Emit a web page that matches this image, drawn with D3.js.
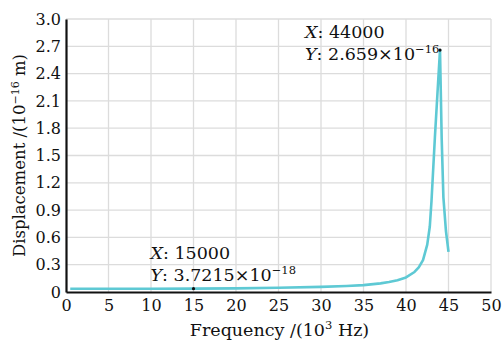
<!DOCTYPE html>
<html>
<head>
<meta charset="utf-8">
<script src="https://cdn.jsdelivr.net/npm/d3@7"></script>
<style>
  body { margin: 0; background: #fff; }
  text { font-family: "DejaVu Serif", "Liberation Serif", serif; fill: #111; }
</style>
</head>
<body>
<div id="chart"></div>
<script>
// frequency in kHz, displacement in 1e-16 m
const freqs = [0.5, 5, 10, 15, 20, 25, 30, 33, 35, 37, 38, 39, 40, 41, 41.5, 42, 42.5, 42.8, 43, 43.4, 44, 44.2, 44.4, 44.7, 45];
const disp  = [0.035, 0.035, 0.036, 0.037, 0.040, 0.046, 0.056, 0.066, 0.076, 0.095, 0.11, 0.13, 0.16, 0.22, 0.27, 0.35, 0.52, 0.72, 1.0, 1.7, 2.659, 1.68, 1.04, 0.67, 0.44];
const xTicks = [0, 5, 10, 15, 20, 25, 30, 35, 40, 45, 50];
const yTicks = [0, 0.3, 0.6, 0.9, 1.2, 1.5, 1.8, 2.1, 2.4, 2.7, 3.0];
const markers = [
  { x: 15, y: 0.037, xLabel: "15000", mant: "3.7215", exp: "\u221218" },
  { x: 44, y: 2.659, xLabel: "44000", mant: "2.659", exp: "\u221216" }
];

const width = 502, height = 342;
const margin = { top: 19, right: 11, bottom: 50, left: 66 };
const W = width - margin.left - margin.right;
const H = height - margin.top - margin.bottom;

const svg = d3.select("#chart").append("svg")
  .attr("width", width)
  .attr("height", height);

const g = svg.append("g")
  .attr("transform", `translate(${margin.left},${margin.top})`);

const x = d3.scaleLinear().domain([0, 50]).range([0, W]);
const y = d3.scaleLinear().domain([0, 3]).range([H, 0]);

// grid
g.append("g")
  .selectAll("line")
  .data(xTicks.slice(1))
  .join("line")
  .attr("x1", d => x(d)).attr("x2", d => x(d))
  .attr("y1", 0).attr("y2", H)
  .attr("stroke", "#dcdcdc").attr("stroke-width", 1.3);

g.append("g")
  .selectAll("line")
  .data(yTicks.slice(1))
  .join("line")
  .attr("x1", 0).attr("x2", W)
  .attr("y1", d => y(d)).attr("y2", d => y(d))
  .attr("stroke", "#dcdcdc").attr("stroke-width", 1.3);

// axes
const xAxis = g.append("g")
  .attr("transform", `translate(0,${H})`)
  .call(d3.axisBottom(x).tickValues(xTicks).tickSize(0).tickPadding(8).tickFormat(d3.format("d")));
const yAxis = g.append("g")
  .call(d3.axisLeft(y).tickValues(yTicks).tickSize(0).tickPadding(5)
    .tickFormat(d => d === 0 ? "0" : d3.format(".1f")(d)));

[xAxis, yAxis].forEach(a => {
  a.select(".domain").attr("stroke", "#111").attr("stroke-width", 2.2);
  a.selectAll("text").style("font-size", "16px").attr("fill", "#111")
    .style("font-family", "'DejaVu Serif', serif");
});

// curve
const data = freqs.map((f, i) => ({ f, v: disp[i] }));
g.append("path")
  .datum(data)
  .attr("fill", "none")
  .attr("stroke", "#5ec9d4")
  .attr("stroke-width", 2.6)
  .attr("stroke-linejoin", "round")
  .attr("d", d3.line().x(d => x(d.f)).y(d => y(d.v)));

// data tips
markers.forEach((m, i) => {
  g.append("circle")
    .attr("cx", x(m.x)).attr("cy", y(m.y))
    .attr("r", 1.6).attr("fill", "#111");

  const tx = i === 0 ? x(m.x) - 43 : x(m.x) - 135;
  const ty = i === 0 ? y(m.y) - 30 : y(m.y) - 12;

  const t1 = g.append("text").attr("x", tx).attr("y", ty).style("font-size", "17.5px");
  t1.append("tspan").style("font-style", "italic").text("X");
  t1.append("tspan").text(": " + m.xLabel);

  const t2 = g.append("text").attr("x", tx).attr("y", ty + 22).style("font-size", "17.5px");
  t2.append("tspan").style("font-style", "italic").text("Y");
  t2.append("tspan").text(": " + m.mant + "\u00d710");
  t2.append("tspan").attr("dy", -7).style("font-size", "11.5px").text(m.exp);
});

// axis titles
const xt = svg.append("text")
  .attr("x", margin.left + W / 2 + 1)
  .attr("y", height - 6)
  .attr("text-anchor", "middle")
  .style("font-size", "17.5px");
xt.append("tspan").text("Frequency /(10");
xt.append("tspan").attr("dy", -7).style("font-size", "11.5px").text("3");
xt.append("tspan").attr("dy", 7).text(" Hz)");

const yt = svg.append("text")
  .attr("transform", `translate(25,${margin.top + H / 2}) rotate(-90)`)
  .attr("text-anchor", "middle")
  .style("font-size", "16.5px");
yt.append("tspan").text("Displacement /(10");
yt.append("tspan").attr("dy", -6.5).style("font-size", "11px").text("\u221216");
yt.append("tspan").attr("dy", 6.5).text(" m)");
</script>
</body>
</html>
